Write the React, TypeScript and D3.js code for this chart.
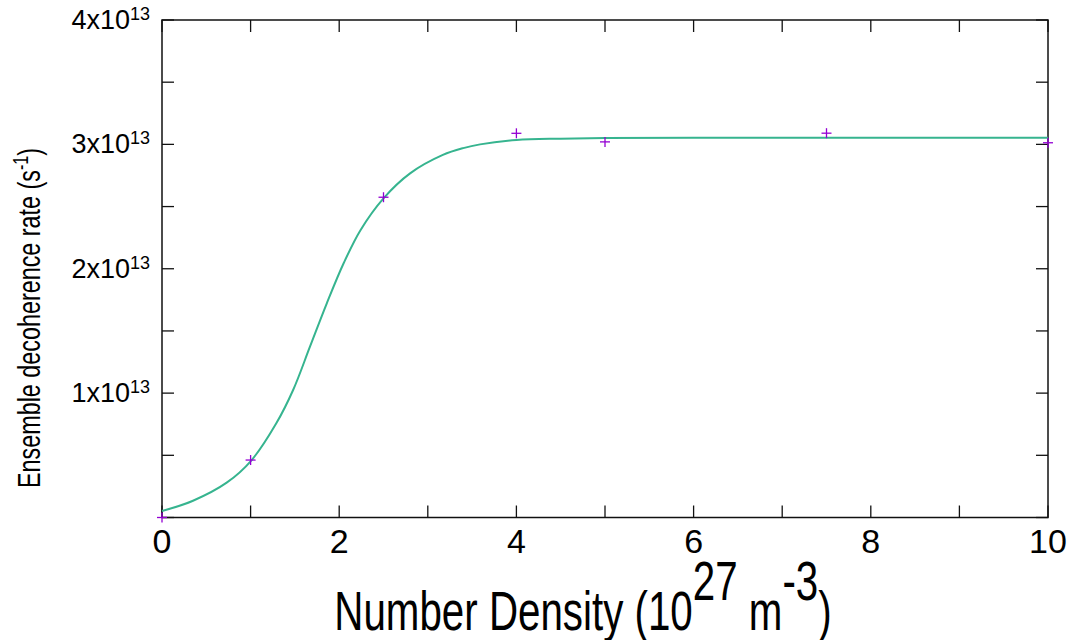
import React from "react";
import * as d3 from "d3";

// Measured data points (number density in 1e27 m^-3, rate in 1e13 s^-1)
const pointX = [0, 1, 2.5, 4, 5, 7.5, 10];
const pointY = [0, 0.462, 2.575, 3.089, 3.02, 3.09, 3.013];

// Fitted curve
const curveX = [0, 0.35, 0.73, 1.01, 1.29, 1.48, 1.67, 1.86, 2.05, 2.24, 2.5, 2.8, 3.17, 3.4, 3.59, 4.0, 4.5, 5, 6, 8, 10];
const curveY = [0.052, 0.135, 0.28, 0.46, 0.757, 1.025, 1.373, 1.722, 2.044, 2.31, 2.566, 2.767, 2.915, 2.97, 3.0, 3.035, 3.046, 3.051, 3.054, 3.054, 3.054];

const xTicks = [0, 1, 2, 3, 4, 5, 6, 7, 8, 9, 10];
const xTickLabels = ["0", "", "2", "", "4", "", "6", "", "8", "", "10"];
const yTicks = [0, 0.5, 1, 1.5, 2, 2.5, 3, 3.5, 4];
const yTickLabels = ["", "", "1", "", "2", "", "3", "", "4"];

const FONT = "'Liberation Sans', Arial, Helvetica, sans-serif";

export default function App() {
  const W = 1072, H = 640;
  const left = 162, right = 1048, top = 20, bottom = 517.5;
  const x = d3.scaleLinear().domain([0, 10]).range([left, right]);
  const y = d3.scaleLinear().domain([0, 4]).range([bottom, top]);
  const tick = 12;

  const curveData = curveX.map((v, i) => [v, curveY[i]] as [number, number]);
  const line = d3
    .line<[number, number]>()
    .x((d) => x(d[0]))
    .y((d) => y(d[1]))
    .curve(d3.curveCatmullRom.alpha(0.5));

  const axisColor = "#111";
  return (
    <svg
      width={W}
      height={H}
      style={{ position: "absolute", left: 0, top: 0, background: "#fff" }}
      fontFamily={FONT}
    >
      <rect x={0} y={0} width={W} height={H} fill="#fff" />
      {/* ticks */}
      {xTicks.map((t, i) => (
        <g key={"xt" + i}>
          <line x1={x(t)} x2={x(t)} y1={bottom} y2={bottom - tick} stroke={axisColor} strokeWidth={1.3} />
          <line x1={x(t)} x2={x(t)} y1={top} y2={top + tick} stroke={axisColor} strokeWidth={1.3} />
          {xTickLabels[i] && (
            <text x={x(t)} y={553} fontSize={34} textAnchor="middle" fill="#000">
              {xTickLabels[i]}
            </text>
          )}
        </g>
      ))}
      {yTicks.map((t, i) => (
        <g key={"yt" + i}>
          <line x1={left} x2={left + tick} y1={y(t)} y2={y(t)} stroke={axisColor} strokeWidth={1.3} />
          <line x1={right} x2={right - tick} y1={y(t)} y2={y(t)} stroke={axisColor} strokeWidth={1.3} />
          {yTickLabels[i] && (
            <text x={150} y={y(t) + 9} fontSize={27} textAnchor="end" fill="#000">
              {yTickLabels[i] + "x10"}
              <tspan fontSize={18} dy={-9}>13</tspan>
            </text>
          )}
        </g>
      ))}
      {/* frame */}
      <rect x={left} y={top} width={right - left} height={bottom - top} fill="none" stroke={axisColor} strokeWidth={1.5} />
      {/* fitted curve */}
      <path d={line(curveData) || ""} fill="none" stroke="#36b48f" strokeWidth={2} />
      {/* data points */}
      {pointX.map((px, i) => {
        const cx = x(px), cy = y(pointY[i]);
        return (
          <g key={"p" + i} stroke="#9400d3" strokeWidth={1.3}>
            <line x1={cx - 5} x2={cx + 5} y1={cy} y2={cy} />
            <line x1={cx} x2={cx} y1={cy - 5} y2={cy + 5} />
          </g>
        );
      })}
      {/* axis titles */}
      <text transform="translate(583,630) scale(0.72,1)" fontSize={56} textAnchor="middle" fill="#000">
        Number Density (10
        <tspan dy={-30}>27</tspan>
        <tspan dy={30}> m</tspan>
        <tspan dy={-30}>-3</tspan>
        <tspan dy={30}>)</tspan>
      </text>
      <text transform="translate(40,318) rotate(-90) scale(0.73,1)" fontSize={32} textAnchor="middle" fill="#000">
        Ensemble decoherence rate (s
        <tspan fontSize={22} dy={-12}>-1</tspan>
        <tspan dy={12}>)</tspan>
      </text>
    </svg>
  );
}
